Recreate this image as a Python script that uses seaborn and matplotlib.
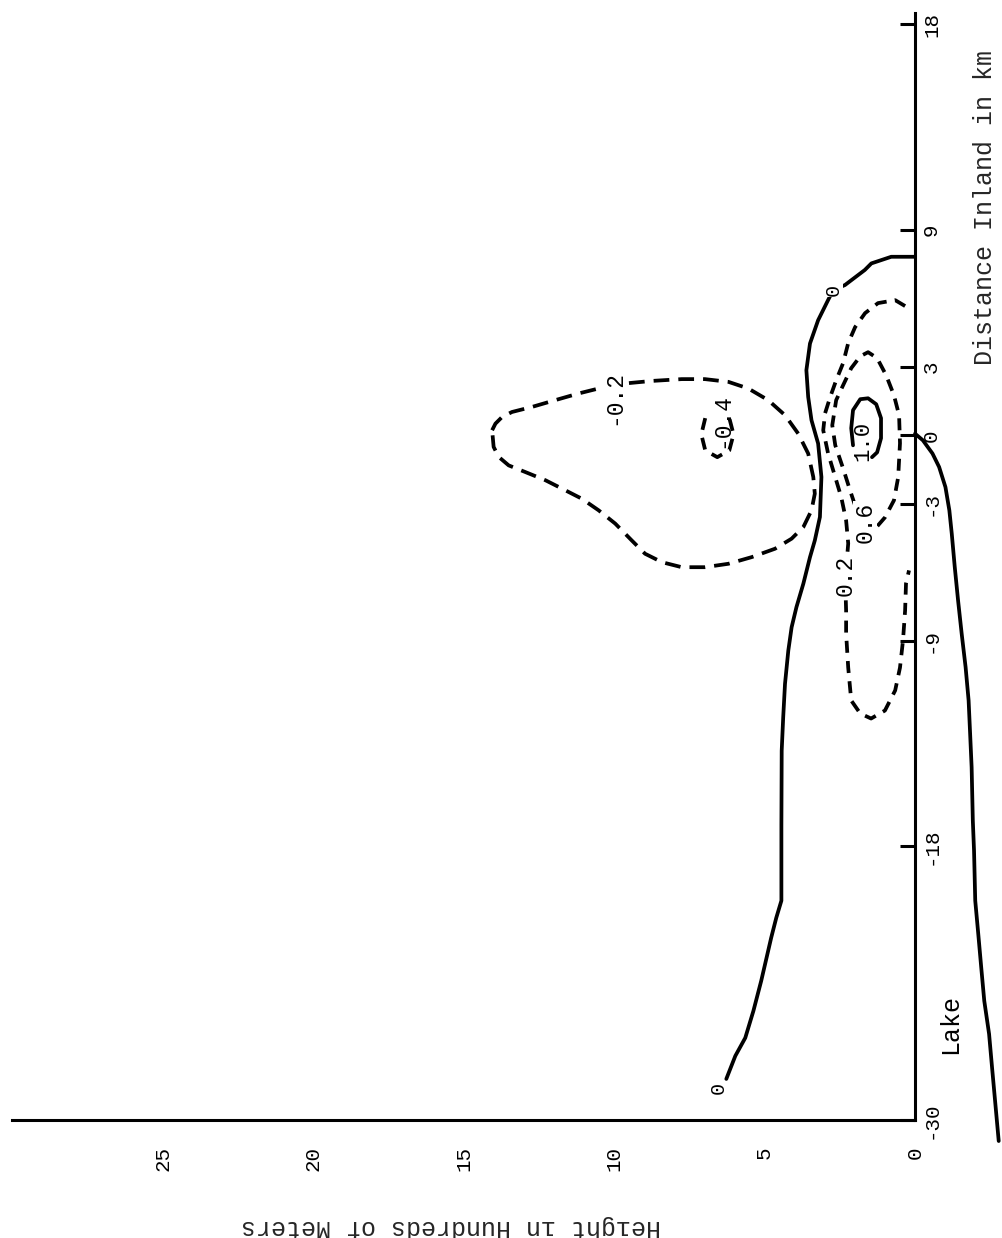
import matplotlib
matplotlib.use("Agg")
import matplotlib.pyplot as plt
import seaborn as sns

# Scanned cross-section, turned on its side: height (hundreds of m) runs
# right-to-left, distance inland (km) runs bottom-to-top.

# solid 0 contour, from its label over the lake up to the inland axis
zero_h = [6.27, 5.97, 5.64, 5.37, 5.11, 4.98, 4.78, 4.61, 4.44, 4.44, 4.43, 4.38, 4.32, 4.21,
          4.10, 3.94, 3.71, 3.49, 3.33, 3.16, 3.11, 3.22, 3.44, 3.55, 3.61, 3.49, 3.22, 2.89,
          2.72, 2.33, 1.67, 1.45, 0.79, 0.29, 0.0]
zero_d = [-28.20, -27.19, -26.40, -25.22, -23.90, -23.16, -22.02, -21.14, -20.39, -17.11,
          -13.82, -12.36, -10.89, -9.43, -8.41, -7.53, -6.50, -5.34, -4.61, -3.58, -1.83,
          -0.36, 0.66, 1.68, 2.85, 4.02, 5.04, 5.92, 6.36, 6.58, 7.24, 7.53, 7.82, 7.82, 7.82]

# ground / lake profile below the axis
ground_h = [0.0, -0.26, -0.58, -0.80, -1.01, -1.14, -1.22, -1.32, -1.43, -1.55, -1.68, -1.78,
            -1.83, -1.88, -1.92, -1.96, -2.00, -2.10, -2.20, -2.30, -2.46, -2.56, -2.66, -2.78]
ground_d = [0.07, -0.22, -0.80, -1.39, -2.27, -3.29, -4.31, -5.78, -7.24, -8.70, -10.16,
            -11.62, -13.07, -14.54, -16.89, -18.20, -20.39, -21.84, -23.33, -24.78, -26.23,
            -27.72, -29.17, -30.92]

# -0.2 lobe (closed)
neg02_h = [14.05, 13.94, 13.72, 13.39, 12.73, 11.95, 11.18, 10.51, 9.63, 8.75, 7.75, 6.98,
           6.20, 5.54, 4.88, 4.32, 3.88, 3.55, 3.38, 3.33, 3.44, 3.71, 4.10, 4.65, 5.43, 6.20,
           6.98, 7.75, 8.41, 8.97, 9.41, 9.96, 10.51, 11.07, 11.62, 12.28, 12.95, 13.50,
           13.83, 14.00]
neg02_d = [0.22, 0.51, 0.80, 1.02, 1.24, 1.54, 1.83, 2.05, 2.27, 2.38, 2.46, 2.46, 2.34, 2.05,
           1.54, 0.88, 0.07, -0.80, -1.83, -2.56, -3.29, -4.02, -4.53, -4.97, -5.34, -5.63,
           -5.78, -5.78, -5.56, -5.19, -4.61, -3.87, -3.29, -2.78, -2.41, -1.97, -1.61, -1.32,
           -0.95, -0.51]

# -0.4 cell (open at the top where its label sits)
neg04_h = [6.97, 7.10, 6.97, 6.57, 6.17, 6.03, 6.17]
neg04_d = [0.75, 0.04, -0.66, -0.96, -0.66, 0.04, 0.75]

# 0.2 contour, axis to axis
pos02_h = [0.33, 0.66, 1.23, 1.66, 1.99, 2.22, 2.39, 2.62, 2.82, 2.99, 3.05, 2.89, 2.65, 2.45,
           2.29, 2.22, 2.32, 2.29, 2.29, 2.22, 2.12, 1.82, 1.46, 1.00, 0.66, 0.50, 0.40, 0.33,
           0.30, 0.20]
pos02_d = [5.66, 5.92, 5.79, 5.35, 4.74, 4.04, 3.16, 2.41, 1.67, 0.96, 0.22, -0.79, -1.84, -2.72,
           -3.73, -4.74, -6.36, -7.68, -8.68, -10.18, -11.62, -12.19, -12.41, -12.06, -11.18,
           -10.18, -8.99, -7.68, -6.49, -5.92]

# 0.6 contour (closed)
pos06_h = [1.66, 1.96, 2.16, 2.39, 2.65, 2.75, 2.62, 2.39, 2.12, 1.82, 1.56, 1.26, 0.96, 0.70,
           0.53, 0.50, 0.56, 0.70, 1.00, 1.29]
pos06_d = [-3.82, -3.20, -2.41, -1.45, -0.44, 0.44, 1.54, 2.19, 2.94, 3.46, 3.64, 3.38, 2.63,
           1.75, 0.88, -0.35, -1.84, -2.85, -3.60, -4.04]

# 1.0 cell (solid, open at the bottom)
pos10_h = [2.06, 2.12, 2.06, 1.82, 1.56, 1.29, 1.13, 1.13, 1.26, 1.43]
pos10_d = [-0.44, 0.31, 1.10, 1.58, 1.62, 1.36, 0.75, -0.13, -0.75, -0.96]

# contour labels
label_text = ["0", "0", "-0.2", "-0.4", "0.2", "0.6", "1.0"]
label_h = [6.53, 2.72, 10.02, 6.43, 2.32, 1.66, 1.72]
label_d = [-28.6, 6.36, 1.67, 0.66, -6.14, -3.82, -0.26]
label_size = [14.5, 14.5, 16.5, 16.5, 16.5, 16.5, 16]
label_boxed = [True, True, True, False, True, True, False]

height_ticks = [0, 5, 10, 15, 20, 25]
dist_ticks = [18, 9, 3, 0, -3, -9, -18, -30]
dist_ticklabels = ["18", "9", "3", "0", "-3", "-9", "-18", "-30"]

sns.set_theme(style="white")
plt.rcParams['font.family'] = ['Liberation Mono', 'DejaVu Sans Mono']

fig = plt.figure(figsize=(10.03, 12.38), dpi=100)
ax = fig.add_axes([0.012, 0.0953, 0.9003, 0.8942])
ax.set_xlim(30, 0)
ax.set_ylim(-30, 18.5)

LONG = (0, (4.2, 2.4))
MED = (0, (3.2, 2.2))


def draw(h, d, ls, closed=False, clip=True, lw=2.7):
    if closed:
        h = h + h[:1]
        d = d + d[:1]
    sns.lineplot(x=h, y=d, sort=False, estimator=None, color='black', lw=lw,
                 linestyle=ls, ax=ax, legend=False, clip_on=clip)


draw(zero_h, zero_d, '-')
draw(ground_h, ground_d, '-', clip=False)
draw(neg02_h, neg02_d, LONG, closed=True)
draw(neg04_h, neg04_d, MED)
draw(pos02_h, pos02_d, MED)
draw(pos06_h, pos06_d, MED, closed=True)
draw(pos10_h, pos10_d, '-')

for t, h, d, s, boxed in zip(label_text, label_h, label_d, label_size, label_boxed):
    box = dict(facecolor='white', edgecolor='none', pad=0.6) if boxed else None
    ax.text(h, d, t, rotation=90, ha='center', va='center', fontsize=s, color='black',
            zorder=5, bbox=box)

ax.text(-1.16, -25.8, "Lake", rotation=90, ha='center', va='center', fontsize=18,
        color='black', clip_on=False)

# axes: only the height axis (bottom) and the distance axis (right)
for side in ['top', 'left']:
    ax.spines[side].set_visible(False)
for side in ['bottom', 'right']:
    ax.spines[side].set_color('black')
    ax.spines[side].set_linewidth(2.2)

ax.yaxis.tick_right()
ax.set_xticks(height_ticks)
ax.set_xticklabels([str(v) for v in height_ticks], rotation=90, fontsize=15)
ax.set_yticks(dist_ticks)
ax.set_yticklabels(dist_ticklabels, rotation=90, fontsize=15, va='center')
ax.tick_params(axis='x', direction='in', length=12, width=2.2, pad=19, colors='black')
ax.tick_params(axis='y', direction='in', length=11, width=2.2, pad=5, colors='black')
ax.grid(False)

ax.set_xlabel("Height in Hundreds of Meters", rotation=180, fontsize=18, ha='center', va='center')
ax.xaxis.set_label_coords(0.486, -0.097)
ax.yaxis.set_label_position('right')
ax.set_ylabel("Distance Inland in km", rotation=90, fontsize=18, ha='center', va='center')
ax.yaxis.set_label_coords(1.077, 0.824)

fig.savefig("out.png", dpi=100, facecolor='white')
